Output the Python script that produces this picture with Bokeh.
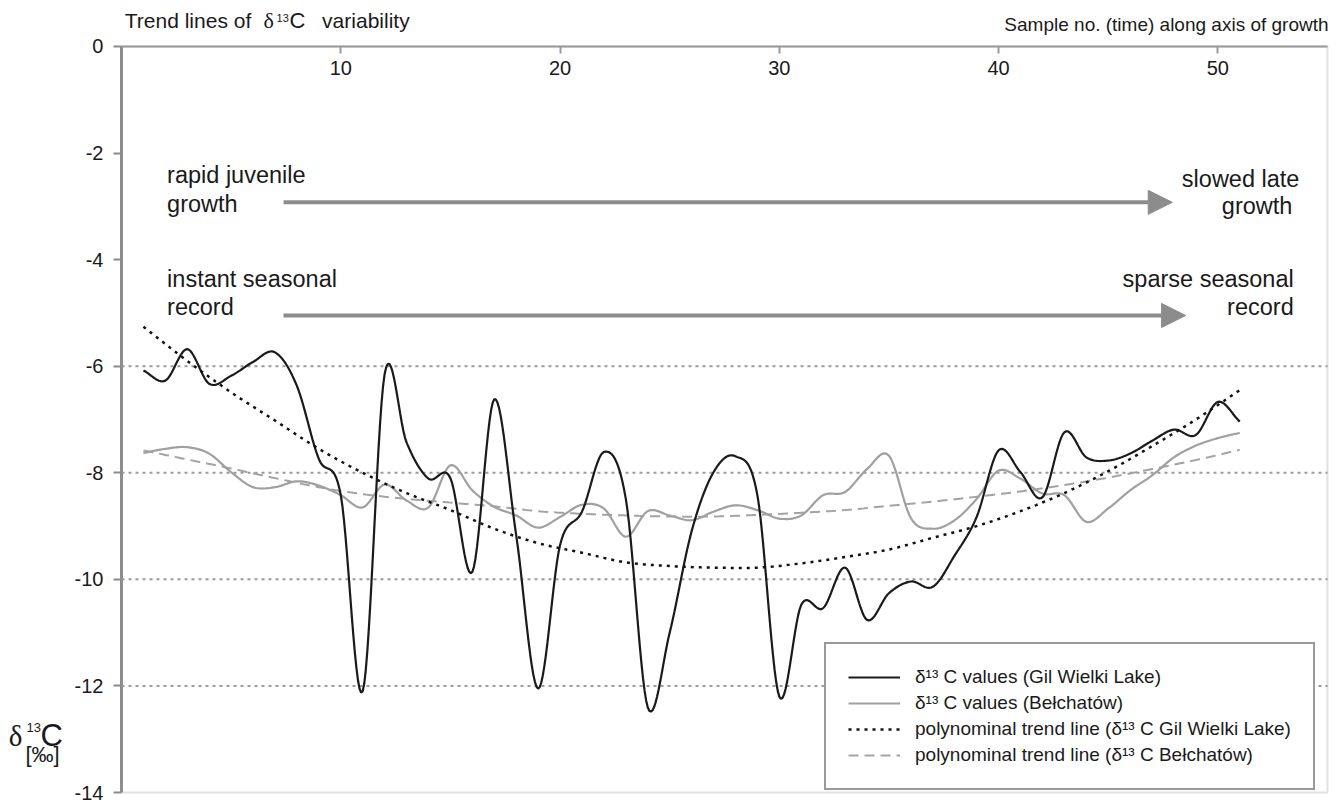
import numpy as np
from bokeh.plotting import figure
from bokeh.models import (Range1d, FixedTicker, Label, Arrow, NormalHead,
                          Legend, LegendItem, BoxAnnotation)
from bokeh.embed import file_html
from bokeh.resources import INLINE

# ---------------- data ----------------
samples = list(range(1, 52))
gil_wielki = [-6.08, -6.27, -5.68, -6.33, -6.18, -5.92, -5.74, -6.37, -7.74, -8.42,
              -12.1, -6.15, -7.43, -8.11, -8.10, -9.86, -6.62, -9.17, -12.05, -9.36,
              -8.73, -7.61, -8.49, -12.4, -11.0, -9.10, -7.99, -7.69, -8.42, -12.2,
              -10.48, -10.54, -9.78, -10.76, -10.26, -10.04, -10.14, -9.55, -8.83, -7.58,
              -7.99, -8.46, -7.24, -7.71, -7.77, -7.64, -7.40, -7.19, -7.29, -6.67,
              -7.04]
belchatow = [-7.63, -7.55, -7.52, -7.64, -7.99, -8.27, -8.27, -8.16, -8.24, -8.42,
             -8.65, -8.22, -8.52, -8.65, -7.86, -8.33, -8.64, -8.80, -9.03, -8.83,
             -8.60, -8.67, -9.20, -8.72, -8.80, -8.89, -8.73, -8.61, -8.70, -8.86,
             -8.80, -8.42, -8.36, -7.93, -7.68, -8.85, -9.05, -8.89, -8.49, -7.96,
             -8.11, -8.39, -8.42, -8.92, -8.67, -8.33, -8.05, -7.71, -7.49, -7.35,
             -7.25]
trend_samples = list(range(1, 52, 2))
gil_trend = [-5.26, -5.90, -6.49, -7.02, -7.55, -8.00, -8.38, -8.70, -9.05, -9.32,
             -9.50, -9.68, -9.75, -9.78, -9.78, -9.70, -9.58, -9.44, -9.22, -9.00,
             -8.72, -8.38, -7.97, -7.50, -7.00, -6.45]
bel_trend = [-7.58, -7.75, -7.92, -8.10, -8.27, -8.40, -8.49, -8.56, -8.63, -8.72,
             -8.77, -8.80, -8.82, -8.82, -8.79, -8.75, -8.70, -8.62, -8.54, -8.45,
             -8.35, -8.23, -8.09, -7.93, -7.76, -7.57]
y_ticks = [0, -2, -4, -6, -8, -10, -12, -14]
x_ticks = [10, 20, 30, 40, 50]
grid_levels = [-6, -8, -10, -12]
x_axis_span = (0, 55)      # sample axis extent
y_axis_span = (-14, 0)     # delta13C axis extent

legend_labels = ["\u03b4\u00b9\u00b3 C values (Gil Wielki Lake)",
                 "\u03b4\u00b9\u00b3 C values (Be\u0142chat\u00f3w)",
                 "polynominal trend line (\u03b4\u00b9\u00b3 C Gil Wielki Lake)",
                 "polynominal trend line (\u03b4\u00b9\u00b3 C Be\u0142chat\u00f3w)"]

SANS = "Liberation Sans"
SERIF = "Liberation Serif"
INK = "#1a1a1a"
FRAME_GREY = "#9a9a9a"
AXIS_GREY = "#8a8a8a"
ARROW_GREY = "#8c8c8c"


def smooth(xs, ys, steps=14):
    """Spreadsheet-style smoothed line (Catmull-Rom) through the given points."""
    x = np.asarray(xs, float)
    y = np.asarray(ys, float)
    px = np.concatenate([[2 * x[0] - x[1]], x, [2 * x[-1] - x[-2]]])
    py = np.concatenate([[2 * y[0] - y[1]], y, [2 * y[-1] - y[-2]]])
    t = np.linspace(0, 1, steps, endpoint=False)
    ox, oy = [], []
    for i in range(1, len(px) - 2):
        for arr, out in ((px, ox), (py, oy)):
            p0, p1, p2, p3 = arr[i - 1], arr[i], arr[i + 1], arr[i + 2]
            out.extend(0.5 * (2 * p1 + (-p0 + p2) * t
                              + (2 * p0 - 5 * p1 + 4 * p2 - p3) * t ** 2
                              + (-p0 + 3 * p1 - 3 * p2 + p3) * t ** 3))
    ox.append(x[-1])
    oy.append(y[-1])
    return ox, oy


# the frame covers the whole canvas; axes are placed at fixed locations inside it
p = figure(width=1335, height=804, x_range=Range1d(-5.518, 55.366),
           y_range=Range1d(-14.225, 0.863),
           output_backend="svg", toolbar_location=None,
           min_border_left=0, min_border_right=0, min_border_top=0, min_border_bottom=0)
p.background_fill_color = "white"
p.border_fill_color = "white"
p.outline_line_color = None
p.grid.visible = False

# y axis (left)
ya = p.yaxis[0]
ya.ticker = FixedTicker(ticks=y_ticks)
ya.fixed_location = x_axis_span[0]
ya.bounds = y_axis_span
ya.major_label_overrides = {t: str(t) for t in y_ticks}
ya.axis_line_color = AXIS_GREY
ya.axis_line_width = 3
ya.major_tick_line_color = AXIS_GREY
ya.major_tick_line_width = 2
ya.major_tick_out = 8
ya.major_tick_in = 0
ya.minor_tick_line_color = None
ya.major_label_text_font = SANS
ya.major_label_text_font_size = "20px"
ya.major_label_text_color = INK
ya.major_label_standoff = 10

# x axis along the top edge, labels inside the box
xa = p.xaxis[0]
xa.ticker = FixedTicker(ticks=x_ticks)
xa.fixed_location = y_axis_span[1]
xa.bounds = x_axis_span
xa.axis_line_color = FRAME_GREY
xa.axis_line_width = 2
xa.major_tick_line_color = FRAME_GREY
xa.major_tick_line_width = 2
xa.major_tick_out = 7
xa.major_tick_in = 0
xa.minor_tick_line_color = None
xa.major_label_text_font = SANS
xa.major_label_text_font_size = "20px"
xa.major_label_text_color = INK
xa.major_label_standoff = 8

# dotted horizontal grid lines
n_grid = len(grid_levels)
p.segment(x0=[x_axis_span[0]] * n_grid, x1=[x_axis_span[1]] * n_grid,
          y0=grid_levels, y1=grid_levels,
          line_color=FRAME_GREY, line_width=2, line_dash="3 4")

# series
bx, by = smooth(trend_samples, bel_trend)
r_bt = p.line(bx, by, line_color="#a3a3a3", line_width=2, line_dash="10 6")
bx, by = smooth(samples, belchatow)
r_b = p.line(bx, by, line_color="#a0a0a0", line_width=2.2)
gx, gy = smooth(samples, gil_wielki)
r_g = p.line(gx, gy, line_color=INK, line_width=2.2)
gx, gy = smooth(trend_samples, gil_trend)
r_gt = p.line(gx, gy, line_color="#111111", line_width=2.5, line_dash="3 5")

# plot box border (right and bottom sides)
p.add_layout(BoxAnnotation(left=x_axis_span[0], right=x_axis_span[1],
                           bottom=y_axis_span[0], top=y_axis_span[1],
                           fill_alpha=0, line_color=FRAME_GREY, line_width=2))

legend = Legend(items=[LegendItem(label=legend_labels[0], renderers=[r_g]),
                       LegendItem(label=legend_labels[1], renderers=[r_b]),
                       LegendItem(label=legend_labels[2], renderers=[r_gt]),
                       LegendItem(label=legend_labels[3], renderers=[r_bt])],
                location=(824, 14))
legend.border_line_color = "#333333"
legend.border_line_width = 2
legend.background_fill_color = "white"
legend.background_fill_alpha = 1
legend.label_text_font = SANS
legend.label_text_font_size = "19px"
legend.label_text_color = INK
legend.glyph_width = 52
legend.glyph_height = 22
legend.label_height = 22
legend.label_standoff = 15
legend.spacing = 4
legend.padding = 22
legend.margin = 0
p.add_layout(legend)

# arrows
arrow_rows = [(7.39, 47.92, -2.925), (7.39, 48.53, -5.048)]
for xs, xe, yy in arrow_rows:
    p.add_layout(Arrow(end=NormalHead(size=24, fill_color=ARROW_GREY, line_color=ARROW_GREY,
                                      line_width=1),
                       x_start=xs, y_start=yy, x_end=xe, y_end=yy,
                       line_color=ARROW_GREY, line_width=4))


def lab(x, y, text, size, align="left", font=SANS):
    p.add_layout(Label(x=x, y=y, text=text, text_font=font, text_font_size=size,
                       text_color=INK, text_align=align, text_baseline="alphabetic"))


# annotations inside the plot
lab(2.08, -2.42, "rapid juvenile", "23.5px")
lab(2.08, -2.96, "growth", "23.5px")
lab(2.08, -4.365, "instant seasonal", "23.5px")
lab(2.08, -4.895, "record", "23.5px")
lab(53.72, -2.48, "slowed late", "23.5px", "right")
lab(53.40, -2.986, "growth", "23.5px", "right")
lab(53.46, -4.365, "sparse seasonal", "23.5px", "right")
lab(53.46, -4.895, "record", "23.5px", "right")

# heading texts above the box
lab(0.15, 0.481, "Trend lines of", "21px")
lab(6.48, 0.487, "\u03b4", "22px", font=SERIF)
lab(7.07, 0.54, "13", "11px")
lab(7.66, 0.487, "C", "22px")
lab(9.15, 0.481, "variability", "21px")
lab(55.05, 0.408, "Sample no. (time) along axis of growth", "19px", "right")

# y-axis title
lab(-5.14, -12.933, "\u03b4", "29px", font=SERIF)
lab(-4.33, -12.777, "13", "13px")
lab(-3.69, -12.923, "C", "31px")
lab(-4.38, -13.284, "[\u2030]", "22px")

open("out.html", "w").write(file_html(p, INLINE))
